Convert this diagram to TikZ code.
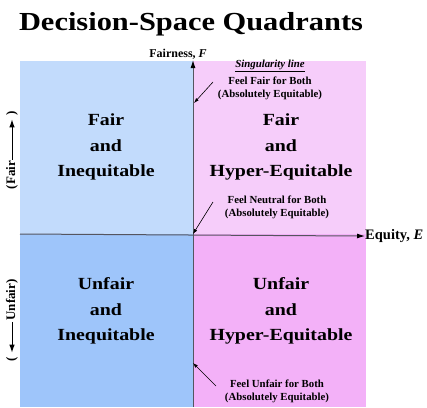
\documentclass[tikz,border=0pt]{standalone}
\usepackage{fontspec}
\setmainfont{Liberation Serif}
\newfontfamily\quadfont[FakeStretch=1.17]{Liberation Serif}
\usetikzlibrary{arrows.meta}

\definecolor{fairineq}{RGB}{194,219,252}
\definecolor{unfairineq}{RGB}{158,197,250}
\definecolor{fairhyper}{RGB}{246,205,250}
\definecolor{unfairhyper}{RGB}{243,177,248}
\definecolor{axisgray}{RGB}{85,85,95}

\tikzset{
  quadlabel/.style={align=center,font=\quadfont\bfseries\fontsize{17}{25.5}\selectfont},
  notelabel/.style={align=center,inner sep=1pt,font=\bfseries\fontsize{10.8}{13}\selectfont},
  sidelabel/.style={rotate=90,inner sep=1pt,font=\bfseries\fontsize{13}{15}\selectfont},
  sidearrow/.style={draw=black,line width=1pt,-{Latex[length=8pt,width=5.5pt]},shorten >=3pt},
  axisline/.style={draw=axisgray,line width=1pt,-{Latex[length=8pt,width=5pt,black]}},
  pointer/.style={draw=black,line width=0.6pt,-{Latex[length=5pt,width=3.5pt]}}
}

\begin{document}
\begin{tikzpicture}[x=1pt,y=-1pt]
\useasboundingbox (0,0) rectangle (427,407);
\fill[fairineq] (20,61) rectangle (193,234);
\fill[unfairineq] (20,234) rectangle (193,407);
\fill[fairhyper] (193,61) rectangle (366,234);
\fill[unfairhyper] (193,234) rectangle (366,407);

\node[anchor=base,font=\quadfont\bfseries\fontsize{26}{30}\selectfont] (title) at (191,30) {Decision-Space Quadrants};

\coordinate (origin) at (193,234);
\coordinate (left end) at (20,234);
\coordinate (bottom end) at (193,407);
\node[anchor=base west,inner sep=0pt,font=\bfseries\fontsize{14.5}{16}\selectfont] (equity) at (365,239.5) {Equity, \textit{E}};
\node[anchor=base,font=\bfseries\fontsize{12}{14}\selectfont] (fairness) at (178,57) {Fairness, \textit{F}};
\coordinate (top end) at (193,60);
\draw[axisline] (left end) -- (equity.west);
\draw[axisline] (bottom end) -- (top end);

\node[quadlabel] (fairineq) at (106,147) {Fair\\and\\Inequitable};
\node[quadlabel] (unfairineq) at (106,311) {Unfair\\and\\Inequitable};
\node[quadlabel] (fairhyper) at (281,147) {Fair\\and\\Hyper-Equitable};
\node[quadlabel] (unfairhyper) at (281,311) {Unfair\\and\\Hyper-Equitable};

\node[notelabel] (sing) at (270,66) {\underline{\textit{Singularity line}}};
\node[notelabel] (feelfair) at (270,88) {Feel Fair for Both\\(Absolutely Equitable)};
\node[notelabel] (feelneutral) at (277,207) {Feel Neutral for Both\\(Absolutely Equitable)};
\node[notelabel] (feelunfair) at (277,391) {Feel Unfair for Both\\(Absolutely Equitable)};

\coordinate (fair tail) at (213,82);
\coordinate (fair tip) at (194,103);
\coordinate (neutral tail) at (213,202);
\coordinate (unfair tail) at (216,386);
\coordinate (unfair tip) at (193,363);
\draw[pointer] (fair tail) -- (fair tip);
\draw[pointer] (neutral tail) -- (origin);
\draw[pointer] (unfair tail) -- (unfair tip);

\node[sidelabel] (fairtxt) at (12,175) {(Fair};
\node[sidelabel] (fairclose) at (12,113) {)};
\draw[sidearrow] (fairtxt) -- (fairclose);
\node[sidelabel] (unfairtxt) at (12,300) {Unfair)};
\node[sidelabel] (unfairopen) at (12,359) {(};
\draw[sidearrow] (unfairtxt) -- (unfairopen);
\end{tikzpicture}
\end{document}
